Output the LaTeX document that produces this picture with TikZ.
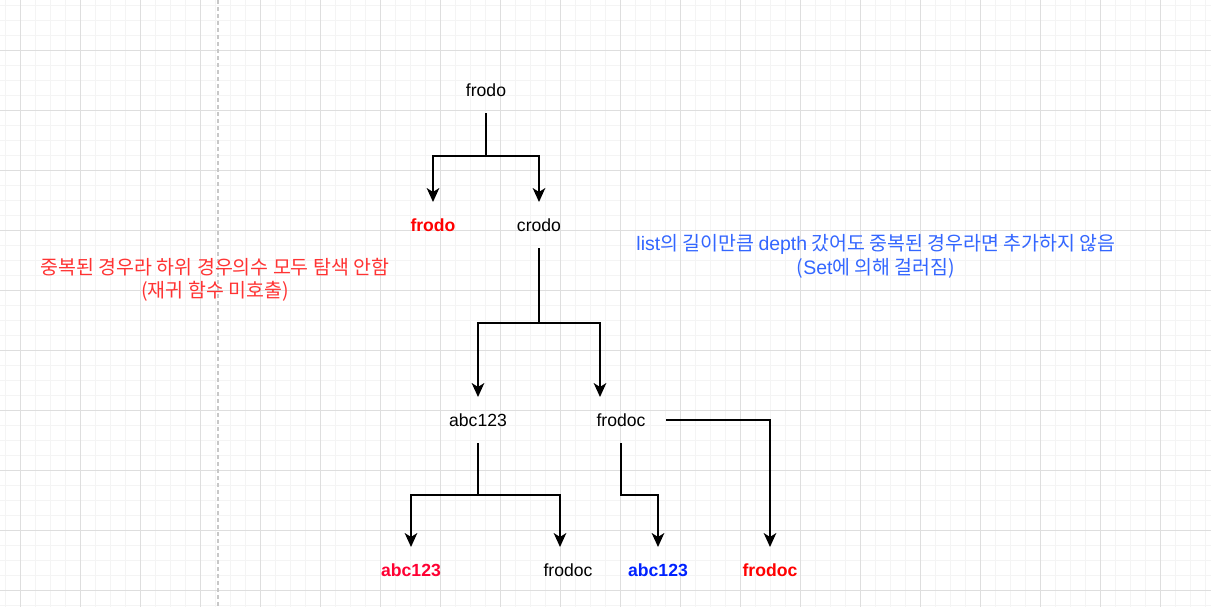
\documentclass[tikz,border=0pt]{standalone}
\usepackage{fontspec}
\setmainfont{Liberation Sans}
\newfontfamily\krfont{Noto Sans CJK KR}
\usepackage{xcolor}
\definecolor{mRed}{HTML}{FF0000}
\definecolor{mCrimson}{HTML}{FF0033}
\definecolor{mBlue}{HTML}{0022FF}
\definecolor{mNoteRed}{HTML}{FF3333}
\definecolor{mNoteBlue}{HTML}{3366FF}
\definecolor{mGridMinor}{HTML}{F4F4F4}
\definecolor{mGridMajor}{HTML}{DEDEDE}
\definecolor{mGuide}{HTML}{C8C8C8}
\usepackage{tikz}
\usetikzlibrary{arrows.meta}
\newcommand{\lat}[1]{{\normalfont #1}}
\tikzset{
  val/.style={inner sep=0pt, outer sep=0pt, minimum width=67.5pt, minimum height=34.5pt, font=\fontsize{13.2}{15}\selectfont},
  dup/.style={val, font=\fontsize{13.2}{15}\selectfont\bfseries},
  note/.style={align=center, inner sep=0pt, font=\fontsize{14.6}{17.6}\selectfont\krfont},
  link/.style={-{Stealth[length=10.5pt,width=9.5pt,inset=3pt]}, line width=1.1pt},
  gridline/.style={line width=0.75pt}
}

\begin{document}
\begin{tikzpicture}[x=0.75pt,y=-0.75pt]
\useasboundingbox (0,0) rectangle (1211,607);
\fill[white] (0,0) rectangle (1211,607);
% background grid
\foreach \gx in {5,20,...,1205} \draw[gridline, mGridMinor] (\gx,0) -- (\gx,607);
\foreach \gy in {5,20,...,605} \draw[gridline, mGridMinor] (0,\gy) -- (1211,\gy);
\foreach \gx in {20,80,...,1160} \draw[gridline, mGridMajor] (\gx,0) -- (\gx,607);
\foreach \gy in {50,110,...,590} \draw[gridline, mGridMajor] (0,\gy) -- (1211,\gy);
\draw[mGuide, line width=1pt, dash pattern=on 3pt off 2.25pt] (218,0) -- (218,607);

% tree
\node[val] (root) at (486,90) {frodo};
\node[dup, text=mRed] (frodoDup) at (433,225) {frodo};
\node[val] (crodo) at (539,225) {crodo};
\node[val] (abc) at (478,420) {abc123};
\node[val] (frodoc) at (621,420) {frodoc};
\node[dup, text=mCrimson] (abcDup) at (411,570) {abc123};
\node[val] (frodocLeaf) at (568,570) {frodoc};
\node[dup, text=mBlue] (abcSet) at (658,570) {abc123};
\node[dup, text=mRed] (frodocDup) at (770,570) {frodoc};

\draw[link] (root.south) -- ++(0,43) -| (frodoDup.north);
\draw[link] (root.south) -- ++(0,43) -| (crodo.north);
\draw[link] (crodo.south) -- ++(0,75) -| (abc.north);
\draw[link] (crodo.south) -- ++(0,75) -| ([xshift=-15.75pt]frodoc.north);
\draw[link] (abc.south) -- ++(0,52) -| (abcDup.north);
\draw[link] (abc.south) -- ++(0,52) -| ([xshift=-6pt]frodocLeaf.north);
\draw[link] (frodoc.south) -- ++(0,52) -| (abcSet.north);
\draw[link] (frodoc.east) -| (frodocDup.north);

% notes
\node[note, text=mNoteRed] (noteSkip) at (215,280) {중복된 경우라 하위 경우의수 모두 탐색 안함\\(재귀 함수 미호출)};
\node[note, text=mNoteBlue] (noteSet) at (876,256.5) {\lat{list}의 길이만큼 \lat{depth} 갔어도 중복된 경우라면 추가하지 않음\\(\lat{Set}에 의해 걸러짐)};
\end{tikzpicture}
\end{document}
